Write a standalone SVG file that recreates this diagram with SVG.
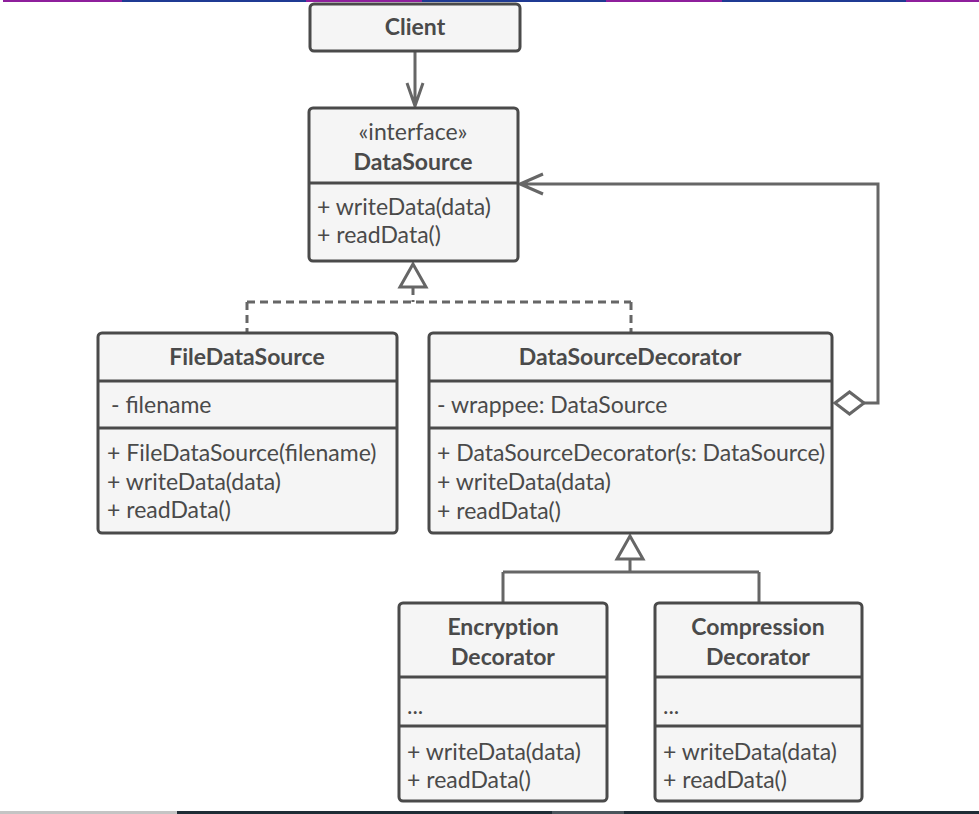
<svg xmlns="http://www.w3.org/2000/svg" width="979" height="814" viewBox="0 0 979 814">
<style>
.box{fill:#f5f5f5;stroke:#4a4a4a;stroke-width:3}
.div{stroke:#4a4a4a;stroke-width:3}
.t{font-family:Lato,"Open Sans","DejaVu Sans",sans-serif;font-size:23px;fill:#4a4a4a}
.b{font-weight:bold;text-anchor:middle}
.c{text-anchor:middle}
.nl{font-variant-ligatures:none}
.ln{fill:none;stroke:#666;stroke-width:3}
.dash{stroke-dasharray:8 5}
.hollow{fill:#fff;stroke:#666;stroke-width:3}
</style>
<rect width="979" height="814" fill="#fff"/>
<g id="frame">
<rect x="3" y="0" width="119" height="2" fill="#8e1f9c"/>
<rect x="122" y="0" width="184" height="2" fill="#1f3a93"/>
<rect x="306" y="0" width="116" height="2" fill="#8e1f9c"/>
<rect x="422" y="0" width="184" height="2" fill="#1f3a93"/>
<rect x="606" y="0" width="116" height="2" fill="#8e1f9c"/>
<rect x="722" y="0" width="184" height="2" fill="#1f3a93"/>
<rect x="906" y="0" width="73" height="2" fill="#8e1f9c"/>
<rect x="0" y="811" width="177" height="3" fill="#c4c4c4"/>
<rect x="177" y="811" width="375" height="3" fill="#1f2d36"/>
<rect x="552" y="811" width="72" height="3" fill="#4a555c"/>
<rect x="624" y="811" width="355" height="3" fill="#1f2d36"/>
</g>
<g id="connectors">
<path class="ln" d="M415 51 V106 M407 83 L415 106 L423 83"/>
<path class="ln dash" d="M413 287 V302 M247 302 H631 M247 302 V332 M631 302 V332"/>
<polygon class="hollow" points="413,264 400,287 426,287"/>
<path class="ln" d="M864 403 H878 V184 H520 M543 174 L520 184 L543 194"/>
<polygon class="hollow" points="835,403 849.5,392 864,403 849.5,414"/>
<path class="ln" d="M630 559 V572 M503 572 H759 M503 572 V602 M759 572 V602"/>
<polygon class="hollow" points="630,536 617,559 643,559"/>
</g>
<g id="client">
<rect class="box" x="310" y="4" width="210" height="47" rx="4"/>
<text class="t b" x="415" y="35">Client</text>
</g>
<g id="datasource">
<rect class="box" x="309" y="108" width="209" height="153" rx="4"/>
<line class="div" x1="309" y1="183" x2="518" y2="183"/>
<text class="t c" x="413" y="140">«interface»</text>
<text class="t b" x="413" y="170">DataSource</text>
<text class="t" x="317" y="215">+ writeData(data)</text>
<text class="t" x="317" y="243">+ readData()</text>
</g>
<g id="filedatasource">
<rect class="box" x="98" y="333" width="299" height="200" rx="4"/>
<line class="div" x1="98" y1="381" x2="397" y2="381"/>
<line class="div" x1="98" y1="428" x2="397" y2="428"/>
<text class="t b" x="247" y="365">FileDataSource</text>
<text class="t" x="111" y="413">- filename</text>
<text class="t" x="107" y="461">+ FileDataSource(filename)</text>
<text class="t" x="107" y="490">+ writeData(data)</text>
<text class="t" x="107" y="518">+ readData()</text>
</g>
<g id="datasourcedecorator">
<rect class="box" x="429" y="333" width="403" height="200" rx="4"/>
<line class="div" x1="429" y1="381" x2="832" y2="381"/>
<line class="div" x1="429" y1="428" x2="832" y2="428"/>
<text class="t b" x="630" y="365">DataSourceDecorator</text>
<text class="t" x="437" y="413">- wrappee: DataSource</text>
<text class="t" x="437" y="461">+ DataSourceDecorator(s: DataSource)</text>
<text class="t" x="437" y="490">+ writeData(data)</text>
<text class="t" x="437" y="519">+ readData()</text>
</g>
<g id="encryption">
<rect class="box" x="399" y="603" width="208" height="198" rx="4"/>
<line class="div" x1="399" y1="677" x2="607" y2="677"/>
<line class="div" x1="399" y1="726" x2="607" y2="726"/>
<text class="t b nl" x="503" y="635">Encryption</text>
<text class="t b" x="503" y="665">Decorator</text>
<text class="t" x="407" y="714">...</text>
<text class="t" x="407" y="760">+ writeData(data)</text>
<text class="t" x="407" y="788">+ readData()</text>
</g>
<g id="compression">
<rect class="box" x="655" y="603" width="207" height="198" rx="4"/>
<line class="div" x1="655" y1="677" x2="862" y2="677"/>
<line class="div" x1="655" y1="726" x2="862" y2="726"/>
<text class="t b" x="758" y="635">Compression</text>
<text class="t b" x="758" y="665">Decorator</text>
<text class="t" x="663" y="714">...</text>
<text class="t" x="663" y="760">+ writeData(data)</text>
<text class="t" x="663" y="788">+ readData()</text>
</g>
</svg>
